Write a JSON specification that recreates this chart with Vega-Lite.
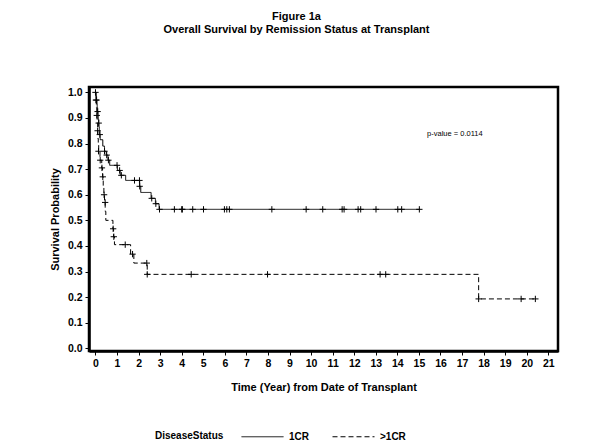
{
  "$schema": "https://vega.github.io/schema/vega-lite/v6.json",
  "autosize": {"type": "none"},
  "width": 469,
  "height": 264,
  "padding": {"left": 89, "top": 87, "right": 35, "bottom": 96},
  "background": "white",
  "title": {
    "text": ["Figure 1a", "Overall Survival by Remission Status at Transplant"],
    "font": "Liberation Sans",
    "fontSize": 11,
    "fontWeight": "bold",
    "lineHeight": 13,
    "anchor": "middle",
    "dx": -27,
    "offset": 52,
    "color": "black"
  },
  "datasets": {
    "curves": [
      {"group": "1CR", "t": 0, "s": 1.0},
      {"group": "1CR", "t": 0.03, "s": 0.985},
      {"group": "1CR", "t": 0.05, "s": 0.97},
      {"group": "1CR", "t": 0.07, "s": 0.955},
      {"group": "1CR", "t": 0.08, "s": 0.94},
      {"group": "1CR", "t": 0.10, "s": 0.925},
      {"group": "1CR", "t": 0.12, "s": 0.91},
      {"group": "1CR", "t": 0.13, "s": 0.895},
      {"group": "1CR", "t": 0.15, "s": 0.88},
      {"group": "1CR", "t": 0.16, "s": 0.865},
      {"group": "1CR", "t": 0.18, "s": 0.85},
      {"group": "1CR", "t": 0.20, "s": 0.835},
      {"group": "1CR", "t": 0.22, "s": 0.815},
      {"group": "1CR", "t": 0.34, "s": 0.79},
      {"group": "1CR", "t": 0.42, "s": 0.77},
      {"group": "1CR", "t": 0.50, "s": 0.755},
      {"group": "1CR", "t": 0.58, "s": 0.735},
      {"group": "1CR", "t": 0.66, "s": 0.715},
      {"group": "1CR", "t": 1.02, "s": 0.695},
      {"group": "1CR", "t": 1.15, "s": 0.676},
      {"group": "1CR", "t": 1.40, "s": 0.656},
      {"group": "1CR", "t": 2.05, "s": 0.633},
      {"group": "1CR", "t": 2.10, "s": 0.609},
      {"group": "1CR", "t": 2.58, "s": 0.586},
      {"group": "1CR", "t": 2.78, "s": 0.565},
      {"group": "1CR", "t": 2.95, "s": 0.543},
      {"group": "1CR", "t": 15.05, "s": 0.543},
      {"group": ">1CR", "t": 0, "s": 1.0},
      {"group": ">1CR", "t": 0.02, "s": 0.97},
      {"group": ">1CR", "t": 0.04, "s": 0.94},
      {"group": ">1CR", "t": 0.06, "s": 0.91},
      {"group": ">1CR", "t": 0.08, "s": 0.88},
      {"group": ">1CR", "t": 0.10, "s": 0.85},
      {"group": ">1CR", "t": 0.11, "s": 0.82},
      {"group": ">1CR", "t": 0.13, "s": 0.795},
      {"group": ">1CR", "t": 0.15, "s": 0.77},
      {"group": ">1CR", "t": 0.21, "s": 0.735},
      {"group": ">1CR", "t": 0.29, "s": 0.705},
      {"group": ">1CR", "t": 0.33, "s": 0.67},
      {"group": ">1CR", "t": 0.36, "s": 0.635},
      {"group": ">1CR", "t": 0.39, "s": 0.60},
      {"group": ">1CR", "t": 0.42, "s": 0.57},
      {"group": ">1CR", "t": 0.45, "s": 0.535},
      {"group": ">1CR", "t": 0.48, "s": 0.50},
      {"group": ">1CR", "t": 0.81, "s": 0.467},
      {"group": ">1CR", "t": 0.84, "s": 0.436},
      {"group": ">1CR", "t": 0.88, "s": 0.405},
      {"group": ">1CR", "t": 1.63, "s": 0.368},
      {"group": ">1CR", "t": 1.78, "s": 0.333},
      {"group": ">1CR", "t": 2.40, "s": 0.289},
      {"group": ">1CR", "t": 17.77, "s": 0.193},
      {"group": ">1CR", "t": 20.42, "s": 0.193}
    ],
    "censored": [
      {"group": "1CR", "t": 0.0, "s": 1.0},
      {"group": "1CR", "t": 0.05, "s": 0.97},
      {"group": "1CR", "t": 0.10, "s": 0.925},
      {"group": "1CR", "t": 0.15, "s": 0.88},
      {"group": "1CR", "t": 0.20, "s": 0.835},
      {"group": "1CR", "t": 0.42, "s": 0.77},
      {"group": "1CR", "t": 0.52, "s": 0.755},
      {"group": "1CR", "t": 0.60, "s": 0.735},
      {"group": "1CR", "t": 1.00, "s": 0.715},
      {"group": "1CR", "t": 1.12, "s": 0.695},
      {"group": "1CR", "t": 1.20, "s": 0.676},
      {"group": "1CR", "t": 1.81, "s": 0.656},
      {"group": "1CR", "t": 2.04, "s": 0.656},
      {"group": "1CR", "t": 2.05, "s": 0.633},
      {"group": "1CR", "t": 2.61, "s": 0.586},
      {"group": "1CR", "t": 2.80, "s": 0.565},
      {"group": "1CR", "t": 2.97, "s": 0.543},
      {"group": "1CR", "t": 3.66, "s": 0.543},
      {"group": "1CR", "t": 4.00, "s": 0.543},
      {"group": "1CR", "t": 4.03, "s": 0.543},
      {"group": "1CR", "t": 4.51, "s": 0.543},
      {"group": "1CR", "t": 5.01, "s": 0.543},
      {"group": "1CR", "t": 5.98, "s": 0.543},
      {"group": "1CR", "t": 6.09, "s": 0.543},
      {"group": "1CR", "t": 6.21, "s": 0.543},
      {"group": "1CR", "t": 8.18, "s": 0.543},
      {"group": "1CR", "t": 9.77, "s": 0.543},
      {"group": "1CR", "t": 10.54, "s": 0.543},
      {"group": "1CR", "t": 11.44, "s": 0.543},
      {"group": "1CR", "t": 11.53, "s": 0.543},
      {"group": "1CR", "t": 12.18, "s": 0.543},
      {"group": "1CR", "t": 12.30, "s": 0.543},
      {"group": "1CR", "t": 13.01, "s": 0.543},
      {"group": "1CR", "t": 14.02, "s": 0.543},
      {"group": "1CR", "t": 14.20, "s": 0.543},
      {"group": "1CR", "t": 15.02, "s": 0.543},
      {"group": ">1CR", "t": 0.02, "s": 0.97},
      {"group": ">1CR", "t": 0.06, "s": 0.91},
      {"group": ">1CR", "t": 0.10, "s": 0.85},
      {"group": ">1CR", "t": 0.14, "s": 0.77},
      {"group": ">1CR", "t": 0.22, "s": 0.735},
      {"group": ">1CR", "t": 0.30, "s": 0.705},
      {"group": ">1CR", "t": 0.34, "s": 0.67},
      {"group": ">1CR", "t": 0.40, "s": 0.60},
      {"group": ">1CR", "t": 0.45, "s": 0.57},
      {"group": ">1CR", "t": 0.82, "s": 0.467},
      {"group": ">1CR", "t": 0.85, "s": 0.436},
      {"group": ">1CR", "t": 1.38, "s": 0.405},
      {"group": ">1CR", "t": 1.72, "s": 0.368},
      {"group": ">1CR", "t": 2.38, "s": 0.333},
      {"group": ">1CR", "t": 2.40, "s": 0.289},
      {"group": ">1CR", "t": 4.44, "s": 0.289},
      {"group": ">1CR", "t": 7.98, "s": 0.289},
      {"group": ">1CR", "t": 13.20, "s": 0.289},
      {"group": ">1CR", "t": 13.46, "s": 0.289},
      {"group": ">1CR", "t": 17.77, "s": 0.193},
      {"group": ">1CR", "t": 19.74, "s": 0.193},
      {"group": ">1CR", "t": 20.40, "s": 0.193}
    ],
    "note": [
      {"t": 15.38, "s": 0.837, "label": "p-value = 0.0114"}
    ]
  },
  "encoding": {
    "x": {
      "field": "t", "type": "quantitative",
      "scale": {"domain": [-0.3, 21.45], "nice": false, "zero": false},
      "axis": {
        "title": "Time (Year) from Date of Transplant",
        "values": [0,1,2,3,4,5,6,7,8,9,10,11,12,13,14,15,16,17,18,19,20,21],
        "format": "d",
        "labelOverlap": false,
        "titlePadding": 13
      }
    },
    "y": {
      "field": "s", "type": "quantitative",
      "scale": {"domain": [-0.0105, 1.021], "nice": false, "zero": false},
      "axis": {
        "title": "Survival Probability",
        "values": [0,0.1,0.2,0.3,0.4,0.5,0.6,0.7,0.8,0.9,1.0],
        "format": ".1f",
        "labelOverlap": false,
        "titlePadding": 7
      }
    }
  },
  "layer": [
    {
      "data": {"name": "curves"},
      "mark": {"type": "line", "interpolate": "step-after", "color": "black", "strokeWidth": 1},
      "encoding": {
        "strokeDash": {
          "field": "group", "type": "nominal",
          "scale": {"domain": ["1CR", ">1CR"], "range": [[1, 0], [5, 3]]},
          "legend": {
            "title": "DiseaseStatus",
            "orient": "none",
            "legendX": 66,
            "legendY": 328,
            "direction": "horizontal",
            "titleOrient": "left",
            "titleAnchor": "middle",
            "titleBaseline": "line-top",
            "titleLineHeight": 16,
            "symbolType": "stroke",
            "symbolSize": 1764,
            "symbolStrokeColor": "black",
            "symbolStrokeWidth": 1,
            "columnPadding": 20,
            "titlePadding": 17,
            "labelOffset": 5
          }
        }
      }
    },
    {
      "data": {"name": "censored"},
      "mark": {"type": "point", "shape": "M-1,0H1M0,-1V1", "filled": false, "stroke": "black", "strokeWidth": 1, "size": 40, "opacity": 1}
    },
    {
      "data": {"name": "note"},
      "mark": {"type": "text", "align": "left", "baseline": "middle", "font": "Liberation Sans", "fontSize": 7.5, "color": "black"},
      "encoding": {
        "text": {"field": "label"}
      }
    }
  ],
  "config": {
    "view": {"stroke": "black", "strokeWidth": 2.5},
    "axis": {
      "grid": false,
      "domainColor": "black",
      "domainWidth": 2.5,
      "tickColor": "black",
      "tickWidth": 1,
      "tickSize": 4,
      "labelFont": "Liberation Sans",
      "labelFontSize": 10.5,
      "labelFontWeight": "bold",
      "labelColor": "black",
      "labelPadding": 3,
      "titleFont": "Liberation Sans",
      "titleFontSize": 11,
      "titleFontWeight": "bold",
      "titleColor": "black"
    },
    "legend": {
      "titleFont": "Liberation Sans",
      "titleFontSize": 10,
      "titleFontWeight": "bold",
      "titleColor": "black",
      "labelFont": "Liberation Sans",
      "labelFontSize": 10,
      "labelFontWeight": "bold",
      "labelColor": "black"
    }
  }
}
